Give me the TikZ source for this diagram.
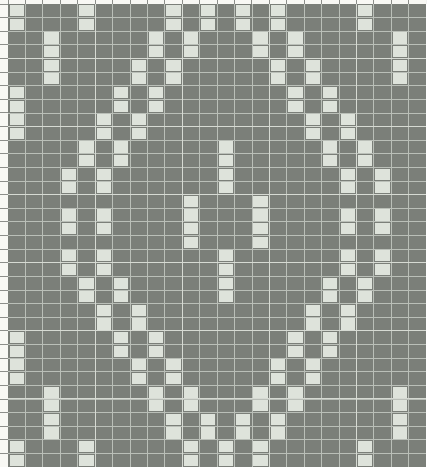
\documentclass[tikz,border=0pt]{standalone}
\usepackage{xcolor}

\definecolor{chartgray}{RGB}{123,127,121}
\definecolor{chartline}{RGB}{186,191,184}
\definecolor{chartmajor}{RGB}{214,218,211}
\definecolor{chartwhite}{RGB}{222,227,219}
\definecolor{paperwhite}{RGB}{248,248,244}
\definecolor{paperline}{RGB}{140,142,138}

\begin{document}
\begin{tikzpicture}[
  x=13.065pt, y=10.215pt,
  paper/.style={fill=paperwhite},
  ground/.style={fill=chartgray},
  gridline/.style={draw=chartline,line width=0.55pt},
  majorline/.style={draw=chartmajor,line width=0.8pt},
  marginline/.style={draw=paperline,line width=0.6pt},
  hole/.style={fill=chartwhite}
]
  \useasboundingbox (-0.46,0.29) rectangle (24,-34);
  \clip (-0.46,0.29) rectangle (24,-34);
  \fill[paper] (-0.46,0.29) rectangle (24,-34);
  \fill[ground] (0,0) rectangle (24,-34);

  % grid ticks in the paper margin
  \foreach \r in {0,...,34}
    \draw[marginline] (-0.46,-\r) -- (0,-\r);
  \foreach \c in {0,...,24}
    \draw[marginline] (\c,0.29) -- (\c,0);

  % light grid on the gray field, brighter every five cells
  \foreach \c in {1,...,23}
    \draw[gridline] (\c,0) -- (\c,-34);
  \foreach \r in {1,...,33}
    \draw[gridline] (0,-\r) -- (24,-\r);
  \foreach \c in {5,10,15,20}
    \draw[majorline] (\c,0) -- (\c,-34);
  \foreach \r in {4,9,14,19,24,29}
    \draw[majorline] (0,-\r) -- (24,-\r);

  % open cells, two rows high: top row / columns
  \foreach \r/\cl in {0/{0,4,9,11,13,15,20}, 2/{8,10,14,16}, 4/{7,9,15,17},
      6/{6,8,16,18}, 8/{5,7,17,19}, 10/{4,6,18,20}, 12/{3,5,19,21},
      15/{3,5,19,21}, 18/{3,5,19,21}, 20/{4,6,18,20}, 22/{5,7,17,19},
      24/{6,8,16,18}, 26/{7,9,15,17}, 28/{8,10,14,16}, 30/{9,11,13,15},
      32/{0,4,10,12,14,20}}
    \foreach \c in \cl
      \foreach \k in {0,1}
        \fill[hole] ({\c+0.09},{-\r-\k-0.09}) rectangle ({\c+0.91},{-\r-\k-0.91});

  % open cells, four rows high: column / top row
  \foreach \c/\r in {2/2, 22/2, 0/6, 12/10, 10/14, 14/14, 12/18, 0/24, 2/28, 22/28}
    \foreach \k in {0,...,3}
      \fill[hole] ({\c+0.09},{-\r-\k-0.09}) rectangle ({\c+0.91},{-\r-\k-0.91});
\end{tikzpicture}
\end{document}
